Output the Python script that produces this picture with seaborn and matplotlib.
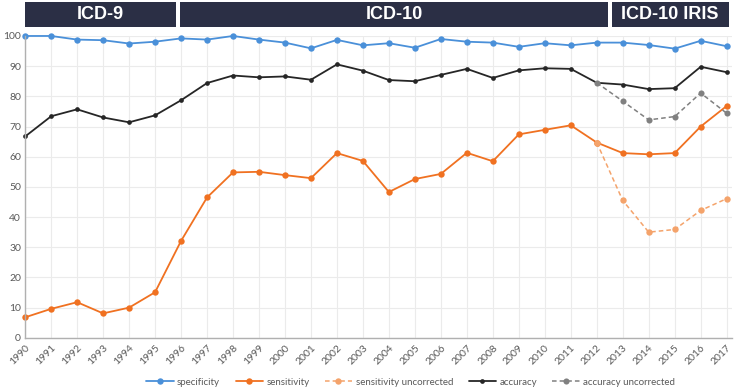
import numpy as np
import pandas as pd
import seaborn as sns
import matplotlib.pyplot as plt
import matplotlib.transforms as mtransforms
from matplotlib.patches import Rectangle

years = list(range(1990, 2018))

specificity = [100, 100, 98.8, 98.6, 97.5, 98.1, 99.2, 98.8, 100, 98.8, 97.8, 95.9, 98.7, 96.9,
               97.6, 96.1, 99.0, 98.1, 97.8, 96.4, 97.6, 96.9, 97.8, 97.8, 97.0, 95.8, 98.4, 96.6]
sensitivity = [6.8, 9.6, 11.8, 8.1, 10.0, 15.1, 32.1, 46.5, 54.8, 55.0, 53.9, 52.9, 61.2, 58.6,
               48.3, 52.6, 54.3, 61.3, 58.5, 67.4, 68.9, 70.4, 64.7, 61.2, 60.8, 61.2, 70.0, 76.8]
accuracy = [66.7, 73.4, 75.7, 73.0, 71.4, 73.7, 78.7, 84.4, 86.9, 86.3, 86.6, 85.5, 90.6, 88.5,
            85.4, 85.0, 87.1, 89.1, 86.1, 88.6, 89.3, 89.1, 84.5, 83.9, 82.4, 82.7, 89.8, 88.0]

unc_years = [2012, 2013, 2014, 2015, 2016, 2017]
sensitivity_unc = [64.7, 45.5, 35.0, 35.9, 42.2, 46.1]
accuracy_unc = [84.5, 78.4, 72.2, 73.3, 81.1, 74.4]

periods = ["ICD-9", "ICD-10", "ICD-10 IRIS"]
period_spans = [(1990, 1995.82), (1995.97, 2012.42), (2012.57, 2017.08)]

df = pd.DataFrame({"year": years, "specificity": specificity,
                   "sensitivity": sensitivity, "accuracy": accuracy})
df_unc = pd.DataFrame({"year": unc_years, "sensitivity uncorrected": sensitivity_unc,
                       "accuracy uncorrected": accuracy_unc})

sns.set_theme(style="whitegrid")
plt.rcParams['font.family'] = ['Lato', 'DejaVu Sans']

fig = plt.figure(figsize=(7.4, 3.91), dpi=100)
ax = fig.add_axes([0.034, 0.136, 0.955, 0.772])

blue = "#4a90d9"
orange = "#f07121"
light_orange = "#f4a36b"
black = "#262626"
gray = "#808080"

sns.lineplot(data=df, x="year", y="specificity", ax=ax, color=blue, marker="o",
             markersize=4.6, markeredgewidth=0, linewidth=1.3, label="specificity", clip_on=False)
sns.lineplot(data=df, x="year", y="sensitivity", ax=ax, color=orange, marker="o",
             markersize=4.6, markeredgewidth=0, linewidth=1.3, label="sensitivity", clip_on=False)
sns.lineplot(data=df_unc, x="year", y="sensitivity uncorrected", ax=ax, color=light_orange,
             marker="o", markersize=4.6, markeredgewidth=0, linewidth=1.1, linestyle=(0, (3, 2)),
             label="sensitivity uncorrected", clip_on=False)
sns.lineplot(data=df, x="year", y="accuracy", ax=ax, color=black, marker="o",
             markersize=3.4, markeredgewidth=0, linewidth=1.3, label="accuracy", clip_on=False)
sns.lineplot(data=df_unc, x="year", y="accuracy uncorrected", ax=ax, color=gray,
             marker="o", markersize=4.4, markeredgewidth=0, linewidth=1.1, linestyle=(0, (3, 2)),
             label="accuracy uncorrected", clip_on=False)

ax.set_xlim(1990, 2017.2)
ax.set_ylim(0, 100)
ax.set_xticks(years)
ax.set_xticklabels([str(y) for y in years], rotation=45, ha="right", rotation_mode="anchor")
ax.set_yticks(range(0, 101, 10))
ax.tick_params(axis="both", labelsize=7.5, colors="#595959", length=0, pad=3)
ax.tick_params(axis="x", pad=4)
ax.set_xlabel("")
ax.set_ylabel("")
ax.grid(True, color="#ebebeb", linewidth=0.8)
for side in ["top", "right"]:
    ax.spines[side].set_visible(False)
for side in ["left", "bottom"]:
    ax.spines[side].set_color("#b0b0b0")
    ax.spines[side].set_linewidth(1)

# period header bars above the plot
trans = mtransforms.blended_transform_factory(ax.transData, fig.transFigure)
for name, (x0, x1) in zip(periods, period_spans):
    fig.add_artist(Rectangle((x0, 0.932), x1 - x0, 0.062, transform=trans,
                             facecolor="#2b2f45", edgecolor="none", clip_on=False))
    fig.text((x0 + x1) / 2, 0.963, name, transform=trans, ha="center", va="center",
             color="white", fontsize=13, fontweight="bold", family=["Liberation Sans", "DejaVu Sans"])

ax.legend_.remove()
handles, labels = ax.get_legend_handles_labels()
fig.legend(handles, labels, loc="center", bbox_to_anchor=(0.555, 0.023), ncol=5, frameon=False,
           fontsize=7, handlelength=2.8, columnspacing=1.6, handletextpad=0.35, labelcolor="#595959")

fig.savefig("out.png", dpi=100)
